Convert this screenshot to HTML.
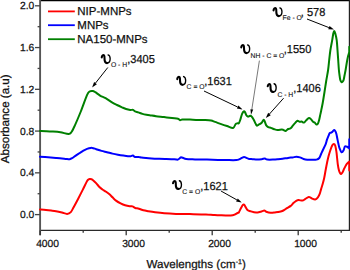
<!DOCTYPE html>
<html><head><meta charset="utf-8"><style>
html,body{margin:0;padding:0;background:#fff;width:350px;height:270px;overflow:hidden}
svg{display:block}
text{font-family:"Liberation Sans",sans-serif;fill:#111;text-rendering:geometricPrecision;stroke:#111;stroke-width:0.25px}
.tk{font-size:10.3px}
.ttl{font-size:11.6px}
.lg{font-size:11.5px}
.num{font-size:11.6px}
.sub{font-size:6.8px;stroke-width:0.1px}
.ups{font-family:"Liberation Serif",serif;font-weight:bold;font-size:17px}
</style></head><body>
<svg width="350" height="270" viewBox="0 0 350 270">
<line x1="40" y1="0" x2="350" y2="0" stroke="#000" stroke-width="2.3"/>
<line x1="349.45" y1="0" x2="349.45" y2="231" stroke="#222" stroke-width="1.3"/>
<line x1="40" y1="230.4" x2="350" y2="230.4" stroke="#2a2a2a" stroke-width="1.3"/>
<line x1="40.1" y1="0" x2="40.1" y2="235.2" stroke="#555" stroke-width="1.9"/>
<line x1="35" y1="214.60" x2="40" y2="214.60" stroke="#444" stroke-width="1.3"/>
<text x="34.3" y="218.20" text-anchor="end" class="tk">0.0</text>
<line x1="37.6" y1="193.72" x2="40" y2="193.72" stroke="#444" stroke-width="1.3"/>
<line x1="35" y1="172.84" x2="40" y2="172.84" stroke="#444" stroke-width="1.3"/>
<text x="34.3" y="176.44" text-anchor="end" class="tk">0.4</text>
<line x1="37.6" y1="151.96" x2="40" y2="151.96" stroke="#444" stroke-width="1.3"/>
<line x1="35" y1="131.08" x2="40" y2="131.08" stroke="#444" stroke-width="1.3"/>
<text x="34.3" y="134.68" text-anchor="end" class="tk">0.8</text>
<line x1="37.6" y1="110.20" x2="40" y2="110.20" stroke="#444" stroke-width="1.3"/>
<line x1="35" y1="89.32" x2="40" y2="89.32" stroke="#444" stroke-width="1.3"/>
<text x="34.3" y="92.92" text-anchor="end" class="tk">1.2</text>
<line x1="37.6" y1="68.44" x2="40" y2="68.44" stroke="#444" stroke-width="1.3"/>
<line x1="35" y1="47.56" x2="40" y2="47.56" stroke="#444" stroke-width="1.3"/>
<text x="34.3" y="51.16" text-anchor="end" class="tk">1.6</text>
<line x1="37.6" y1="26.68" x2="40" y2="26.68" stroke="#444" stroke-width="1.3"/>
<line x1="35" y1="5.80" x2="40" y2="5.80" stroke="#444" stroke-width="1.3"/>
<text x="34.3" y="9.40" text-anchor="end" class="tk">2.0</text>
<line x1="40.20" y1="230.4" x2="40.20" y2="235.2" stroke="#333" stroke-width="1.3"/>
<text x="47.60" y="247" text-anchor="middle" class="tk">4000</text>
<line x1="83.20" y1="230.4" x2="83.20" y2="232.8" stroke="#333" stroke-width="1.3"/>
<line x1="126.20" y1="230.4" x2="126.20" y2="235.2" stroke="#333" stroke-width="1.3"/>
<text x="133.60" y="247" text-anchor="middle" class="tk">3000</text>
<line x1="169.20" y1="230.4" x2="169.20" y2="232.8" stroke="#333" stroke-width="1.3"/>
<line x1="212.20" y1="230.4" x2="212.20" y2="235.2" stroke="#333" stroke-width="1.3"/>
<text x="219.60" y="247" text-anchor="middle" class="tk">2000</text>
<line x1="255.20" y1="230.4" x2="255.20" y2="232.8" stroke="#333" stroke-width="1.3"/>
<line x1="298.20" y1="230.4" x2="298.20" y2="235.2" stroke="#333" stroke-width="1.3"/>
<text x="305.60" y="247" text-anchor="middle" class="tk">1000</text>
<line x1="341.20" y1="230.4" x2="341.20" y2="232.8" stroke="#333" stroke-width="1.3"/>
<text x="146.5" y="268" class="ttl">Wavelengths (cm<tspan dy="-4.5" font-size="7">-1</tspan><tspan dy="4.5">)</tspan></text>
<text transform="translate(8.9,163.3) rotate(-90)" class="ttl">Absorbance (a.u)</text>
<path d="M40.00,209.40 C41.00,209.48 44.15,209.72 46.00,209.90 C47.85,210.08 49.43,210.28 51.10,210.50 C52.77,210.72 54.20,210.87 56.00,211.20 C57.80,211.53 60.05,212.05 61.90,212.50 C63.75,212.95 65.62,213.97 67.10,213.90 C68.58,213.83 69.68,213.27 70.80,212.10 C71.92,210.93 72.57,209.13 73.80,206.90 C75.03,204.67 76.72,201.53 78.20,198.70 C79.68,195.87 81.33,192.62 82.70,189.90 C84.07,187.18 85.55,184.05 86.40,182.40 C87.25,180.75 87.25,180.57 87.80,180.00 C88.35,179.43 89.08,179.13 89.70,179.00 C90.32,178.87 90.90,178.97 91.50,179.20 C92.10,179.43 92.53,179.75 93.30,180.40 C94.07,181.05 95.03,181.95 96.10,183.10 C97.17,184.25 98.63,186.23 99.70,187.30 C100.77,188.37 101.43,188.75 102.50,189.50 C103.57,190.25 104.88,190.95 106.10,191.80 C107.32,192.65 108.73,193.68 109.80,194.60 C110.87,195.52 111.47,196.30 112.50,197.30 C113.53,198.30 114.65,199.58 116.00,200.60 C117.35,201.62 119.08,202.62 120.60,203.40 C122.12,204.18 123.58,204.82 125.10,205.30 C126.62,205.78 128.47,206.12 129.70,206.30 C130.93,206.48 131.58,206.12 132.50,206.40 C133.42,206.68 134.13,207.62 135.20,208.00 C136.27,208.38 137.53,208.32 138.90,208.70 C140.27,209.08 141.88,209.88 143.40,210.30 C144.92,210.72 146.05,210.87 148.00,211.20 C149.95,211.53 152.38,211.95 155.10,212.30 C157.82,212.65 160.82,213.03 164.30,213.30 C167.78,213.57 171.72,213.77 176.00,213.90 C180.28,214.03 185.00,214.02 190.00,214.10 C195.00,214.18 202.17,214.27 206.00,214.40 C209.83,214.53 210.72,214.75 213.00,214.90 C215.28,215.05 216.75,215.20 219.70,215.30 C222.65,215.40 228.10,215.67 230.70,215.50 C233.30,215.33 234.17,214.72 235.30,214.30 C236.43,213.88 236.90,213.33 237.50,213.00 C238.10,212.67 238.32,213.12 238.90,212.30 C239.48,211.48 240.33,209.33 241.00,208.10 C241.67,206.87 242.40,205.48 242.90,204.90 C243.40,204.32 243.55,204.23 244.00,204.60 C244.45,204.97 245.03,206.22 245.60,207.10 C246.17,207.98 246.57,209.20 247.40,209.90 C248.23,210.60 249.15,210.85 250.60,211.30 C252.05,211.75 254.42,212.53 256.10,212.60 C257.78,212.67 259.33,212.03 260.70,211.70 C262.07,211.37 263.38,210.60 264.30,210.60 C265.22,210.60 265.15,211.35 266.20,211.70 C267.25,212.05 269.12,212.58 270.60,212.70 C272.08,212.82 273.58,212.55 275.10,212.40 C276.62,212.25 278.32,212.12 279.70,211.80 C281.08,211.48 282.18,211.10 283.40,210.50 C284.62,209.90 285.78,208.97 287.00,208.20 C288.22,207.43 289.63,206.75 290.70,205.90 C291.77,205.05 292.48,203.93 293.40,203.10 C294.32,202.27 295.32,201.40 296.20,200.90 C297.08,200.40 297.67,200.15 298.70,200.10 C299.73,200.05 301.33,200.75 302.40,200.60 C303.47,200.45 304.03,199.82 305.10,199.20 C306.17,198.58 307.73,197.05 308.80,196.90 C309.87,196.75 310.43,197.88 311.50,198.30 C312.57,198.72 314.13,199.55 315.20,199.40 C316.27,199.25 317.13,198.35 317.90,197.40 C318.67,196.45 319.27,195.08 319.80,193.70 C320.33,192.32 320.65,190.62 321.10,189.10 C321.55,187.58 321.98,186.45 322.50,184.60 C323.02,182.75 323.67,180.48 324.20,178.00 C324.73,175.52 325.20,172.37 325.70,169.70 C326.20,167.03 326.72,164.28 327.20,162.00 C327.68,159.72 328.03,158.08 328.60,156.00 C329.17,153.92 329.98,151.28 330.60,149.50 C331.22,147.72 331.77,146.23 332.30,145.30 C332.83,144.37 333.32,143.87 333.80,143.90 C334.28,143.93 334.77,144.20 335.20,145.50 C335.63,146.80 336.08,149.62 336.40,151.70 C336.72,153.78 336.87,155.90 337.10,158.00 C337.33,160.10 337.52,162.35 337.80,164.30 C338.08,166.25 338.43,168.25 338.80,169.70 C339.17,171.15 339.60,172.28 340.00,173.00 C340.40,173.72 340.80,174.07 341.20,174.00 C341.60,173.93 341.98,173.32 342.40,172.60 C342.82,171.88 343.08,170.98 343.70,169.70 C344.32,168.42 345.38,166.08 346.10,164.90 C346.82,163.72 347.47,163.15 348.00,162.60 C348.53,162.05 349.08,161.77 349.30,161.60 L349.3,170.4" fill="none" stroke="#ff0000" stroke-width="2" stroke-linejoin="round" stroke-linecap="round"/>
<path d="M40.00,156.80 C41.33,156.88 45.33,157.12 48.00,157.30 C50.67,157.48 53.67,157.72 56.00,157.90 C58.33,158.08 60.33,158.23 62.00,158.40 C63.67,158.57 64.72,158.77 66.00,158.90 C67.28,159.03 68.63,159.35 69.70,159.20 C70.77,159.05 71.33,158.65 72.40,158.00 C73.47,157.35 74.88,156.13 76.10,155.30 C77.32,154.47 78.48,153.77 79.70,153.00 C80.92,152.23 82.18,151.38 83.40,150.70 C84.62,150.02 85.78,149.37 87.00,148.90 C88.22,148.43 89.63,148.02 90.70,147.90 C91.77,147.78 92.48,147.98 93.40,148.20 C94.32,148.42 94.85,148.75 96.20,149.20 C97.55,149.65 99.70,150.40 101.50,150.90 C103.30,151.40 105.17,151.75 107.00,152.20 C108.83,152.65 110.68,153.18 112.50,153.60 C114.32,154.02 116.08,154.37 117.90,154.70 C119.72,155.03 121.72,155.35 123.40,155.60 C125.08,155.85 126.80,156.10 128.00,156.20 C129.20,156.30 129.78,156.32 130.60,156.20 C131.42,156.08 132.15,155.37 132.90,155.50 C133.65,155.63 134.12,156.77 135.10,157.00 C136.08,157.23 137.73,156.80 138.80,156.90 C139.87,157.00 140.28,157.40 141.50,157.60 C142.72,157.80 144.42,157.95 146.10,158.10 C147.78,158.25 149.62,158.38 151.60,158.50 C153.58,158.62 155.75,158.72 158.00,158.80 C160.25,158.88 162.38,158.92 165.10,159.00 C167.82,159.08 172.17,159.20 174.30,159.30 C176.43,159.40 176.98,159.78 177.90,159.60 C178.82,159.42 179.27,158.58 179.80,158.20 C180.33,157.82 180.50,157.33 181.10,157.30 C181.70,157.27 182.55,157.70 183.40,158.00 C184.25,158.30 184.27,158.87 186.20,159.10 C188.13,159.33 191.53,159.32 195.00,159.40 C198.47,159.48 203.17,159.52 207.00,159.60 C210.83,159.68 214.65,159.82 218.00,159.90 C221.35,159.98 224.05,160.07 227.10,160.10 C230.15,160.13 234.32,160.22 236.30,160.10 C238.28,159.98 238.08,159.77 239.00,159.40 C239.92,159.03 240.95,158.30 241.80,157.90 C242.65,157.50 243.35,157.00 244.10,157.00 C244.85,157.00 245.47,157.58 246.30,157.90 C247.13,158.22 248.05,158.68 249.10,158.90 C250.15,159.12 251.27,159.08 252.60,159.20 C253.93,159.32 255.58,159.60 257.10,159.60 C258.62,159.60 260.40,159.38 261.70,159.20 C263.00,159.02 263.98,158.43 264.90,158.50 C265.82,158.57 265.75,159.42 267.20,159.60 C268.65,159.78 271.80,159.65 273.60,159.60 C275.40,159.55 276.50,159.43 278.00,159.30 C279.50,159.17 280.92,159.03 282.60,158.80 C284.28,158.57 286.43,158.13 288.10,157.90 C289.77,157.67 291.23,157.58 292.60,157.40 C293.97,157.22 295.08,156.80 296.30,156.80 C297.52,156.80 298.68,157.03 299.90,157.40 C301.12,157.77 302.37,158.62 303.60,159.00 C304.83,159.38 305.90,159.57 307.30,159.70 C308.70,159.83 310.47,159.82 312.00,159.80 C313.53,159.78 315.28,159.90 316.50,159.60 C317.72,159.30 318.53,158.93 319.30,158.00 C320.07,157.07 320.50,155.33 321.10,154.00 C321.70,152.67 322.13,151.65 322.90,150.00 C323.67,148.35 325.02,145.82 325.70,144.10 C326.38,142.38 326.48,141.20 327.00,139.70 C327.52,138.20 328.35,136.18 328.80,135.10 C329.25,134.02 329.32,133.62 329.70,133.20 C330.08,132.78 330.63,132.85 331.10,132.60 C331.57,132.35 332.05,132.12 332.50,131.70 C332.95,131.28 333.35,130.22 333.80,130.10 C334.25,129.98 334.77,130.35 335.20,131.00 C335.63,131.65 336.05,132.75 336.40,134.00 C336.75,135.25 336.98,136.95 337.30,138.50 C337.62,140.05 337.93,141.68 338.30,143.30 C338.67,144.92 338.95,146.70 339.50,148.20 C340.05,149.70 340.92,151.95 341.60,152.30 C342.28,152.65 343.05,151.28 343.60,150.30 C344.15,149.32 344.32,146.98 344.90,146.40 C345.48,145.82 346.52,146.57 347.10,146.80 C347.68,147.03 348.03,147.52 348.40,147.80 C348.77,148.08 349.15,148.38 349.30,148.50 L349.3,139.2" fill="none" stroke="#0000ff" stroke-width="2" stroke-linejoin="round" stroke-linecap="round"/>
<path d="M40.00,131.10 C41.00,131.12 43.97,131.13 46.00,131.20 C48.03,131.27 49.80,131.32 52.20,131.50 C54.60,131.68 57.67,131.88 60.40,132.30 C63.13,132.72 66.75,134.05 68.60,134.00 C70.45,133.95 70.48,133.37 71.50,132.00 C72.52,130.63 73.15,129.22 74.70,125.80 C76.25,122.38 78.75,116.60 80.80,111.50 C82.85,106.40 85.53,98.53 87.00,95.20 C88.47,91.87 88.65,92.20 89.60,91.50 C90.55,90.80 91.75,90.88 92.70,91.00 C93.65,91.12 94.02,91.40 95.30,92.20 C96.58,93.00 98.68,94.80 100.40,95.80 C102.12,96.80 103.60,97.07 105.60,98.20 C107.60,99.33 110.50,101.47 112.40,102.60 C114.30,103.73 115.40,104.22 117.00,105.00 C118.60,105.78 120.48,106.63 122.00,107.30 C123.52,107.97 124.73,108.57 126.10,109.00 C127.47,109.43 129.05,109.75 130.20,109.90 C131.35,110.05 132.20,109.65 133.00,109.90 C133.80,110.15 134.12,110.98 135.00,111.40 C135.88,111.82 137.07,111.98 138.30,112.40 C139.53,112.82 141.05,113.50 142.40,113.90 C143.75,114.30 145.18,114.58 146.40,114.80 C147.62,115.02 148.10,114.97 149.70,115.20 C151.30,115.43 153.62,115.88 156.00,116.20 C158.38,116.52 161.33,116.78 164.00,117.10 C166.67,117.42 169.67,117.82 172.00,118.10 C174.33,118.38 176.67,118.45 178.00,118.80 C179.33,119.15 179.27,120.10 180.00,120.20 C180.73,120.30 180.73,119.50 182.40,119.40 C184.07,119.30 187.73,119.52 190.00,119.60 C192.27,119.68 193.50,119.82 196.00,119.90 C198.50,119.98 202.48,119.98 205.00,120.10 C207.52,120.22 209.43,120.30 211.10,120.60 C212.77,120.90 213.32,121.32 215.00,121.90 C216.68,122.48 219.20,123.42 221.20,124.10 C223.20,124.78 225.02,125.37 227.00,126.00 C228.98,126.63 231.67,128.22 233.10,127.90 C234.53,127.58 234.87,124.87 235.60,124.10 C236.33,123.33 236.95,123.45 237.50,123.30 C238.05,123.15 238.40,123.90 238.90,123.20 C239.40,122.50 239.97,120.67 240.50,119.10 C241.03,117.53 241.55,115.10 242.10,113.80 C242.65,112.50 243.32,111.58 243.80,111.30 C244.28,111.02 244.60,111.48 245.00,112.10 C245.40,112.72 245.72,114.25 246.20,115.00 C246.68,115.75 247.42,116.40 247.90,116.60 C248.38,116.80 248.63,116.33 249.10,116.20 C249.57,116.07 250.17,115.60 250.70,115.80 C251.23,116.00 251.75,116.65 252.30,117.40 C252.85,118.15 253.45,119.27 254.00,120.30 C254.55,121.33 255.13,122.72 255.60,123.60 C256.07,124.48 256.33,125.40 256.80,125.60 C257.27,125.80 257.72,125.17 258.40,124.80 C259.08,124.43 260.27,123.87 260.90,123.40 C261.53,122.93 261.73,122.60 262.20,122.00 C262.67,121.40 263.25,119.83 263.70,119.80 C264.15,119.77 264.50,120.92 264.90,121.80 C265.30,122.68 265.55,124.22 266.10,125.10 C266.65,125.98 267.38,126.63 268.20,127.10 C269.02,127.57 269.98,127.55 271.00,127.90 C272.02,128.25 273.20,128.85 274.30,129.20 C275.40,129.55 276.38,129.93 277.60,130.00 C278.82,130.07 280.65,129.62 281.60,129.60 C282.55,129.58 282.62,129.68 283.30,129.90 C283.98,130.12 284.90,131.05 285.70,130.90 C286.50,130.75 287.28,129.43 288.10,129.00 C288.92,128.57 289.78,128.90 290.60,128.30 C291.42,127.70 292.18,126.35 293.00,125.40 C293.82,124.45 294.75,123.37 295.50,122.60 C296.25,121.83 296.82,120.93 297.50,120.80 C298.18,120.67 298.92,121.67 299.60,121.80 C300.28,121.93 300.87,121.47 301.60,121.60 C302.33,121.73 303.22,122.83 304.00,122.60 C304.78,122.37 305.47,120.98 306.30,120.20 C307.13,119.42 308.20,118.03 309.00,117.90 C309.80,117.77 310.42,118.75 311.10,119.40 C311.78,120.05 312.50,121.27 313.10,121.80 C313.70,122.33 314.15,122.15 314.70,122.60 C315.25,123.05 315.85,124.37 316.40,124.50 C316.95,124.63 317.53,124.18 318.00,123.40 C318.47,122.62 318.80,121.35 319.20,119.80 C319.60,118.25 320.05,115.73 320.40,114.10 C320.75,112.47 320.92,111.85 321.30,110.00 C321.68,108.15 322.17,106.00 322.70,103.00 C323.23,100.00 323.92,95.67 324.50,92.00 C325.08,88.33 325.60,84.67 326.20,81.00 C326.80,77.33 327.60,73.50 328.10,70.00 C328.60,66.50 328.82,63.33 329.20,60.00 C329.58,56.67 329.90,53.30 330.40,50.00 C330.90,46.70 331.72,42.95 332.20,40.20 C332.68,37.45 332.97,35.05 333.30,33.50 C333.63,31.95 333.87,30.90 334.20,30.90 C334.53,30.90 334.88,31.95 335.30,33.50 C335.72,35.05 336.33,37.45 336.70,40.20 C337.07,42.95 337.25,46.70 337.50,50.00 C337.75,53.30 337.97,56.67 338.20,60.00 C338.43,63.33 338.68,67.50 338.90,70.00 C339.12,72.50 339.27,73.33 339.50,75.00 C339.73,76.67 339.95,78.80 340.30,80.00 C340.65,81.20 341.20,81.95 341.60,82.20 C342.00,82.45 342.37,81.87 342.70,81.50 C343.03,81.13 343.28,81.08 343.60,80.00 C343.92,78.92 344.27,76.67 344.60,75.00 C344.93,73.33 345.22,72.17 345.60,70.00 C345.98,67.83 346.48,64.33 346.90,62.00 C347.32,59.67 347.70,57.67 348.10,56.00 C348.50,54.33 349.10,52.67 349.30,52.00 L349.3,46.8" fill="none" stroke="#008000" stroke-width="2" stroke-linejoin="round" stroke-linecap="round"/>
<line x1="48" y1="11.4" x2="74.8" y2="11.4" stroke="#ff0000" stroke-width="1.8"/>
<text x="77.3" y="15.3" class="lg">NIP-MNPs</text>
<line x1="48" y1="25.2" x2="74.8" y2="25.2" stroke="#0000ff" stroke-width="1.8"/>
<text x="77.3" y="29.1" class="lg">MNPs</text>
<line x1="48" y1="39.2" x2="74.8" y2="39.2" stroke="#008000" stroke-width="1.8"/>
<text x="77.3" y="42.9" class="lg">NA150-MNPs</text>
<line x1="107.8" y1="67.5" x2="95.51" y2="83.08" stroke="#000" stroke-width="1.0"/><path d="M92.10,87.40 L94.13,82.00 L96.88,84.17 Z" fill="#000"/>
<line x1="204" y1="91" x2="237.64" y2="107.03" stroke="#000" stroke-width="1.0"/><path d="M242.60,109.40 L236.88,108.61 L238.39,105.45 Z" fill="#000"/>
<line x1="259.4" y1="60.6" x2="251.84" y2="109.36" stroke="#555" stroke-width="0.8"/><path d="M251.00,114.80 L250.46,109.15 L253.23,109.58 Z" fill="#000"/>
<line x1="283.6" y1="98.2" x2="269.47" y2="114.00" stroke="#000" stroke-width="1.0"/><path d="M265.80,118.10 L268.16,112.83 L270.77,115.17 Z" fill="#000"/>
<line x1="307" y1="19" x2="328.88" y2="27.59" stroke="#000" stroke-width="1.0"/><path d="M334.00,29.60 L328.24,29.22 L329.52,25.96 Z" fill="#000"/>
<line x1="221" y1="191" x2="236.90" y2="199.91" stroke="#000" stroke-width="1.0"/><path d="M241.70,202.60 L236.05,201.44 L237.76,198.38 Z" fill="#000"/>
<g transform="translate(100.80,54.10) scale(1.04,1.09)" fill="none" stroke="#000" stroke-linecap="round"><path d="M0.9,3.0 C1.0,1.3 2.4,0.5 3.2,1.3 C3.7,1.9 3.6,3.4 3.6,4.8 C3.6,7.0 4.7,8.2 6.0,8.2" stroke-width="2.0"/><path d="M5.8,8.2 C7.9,8.2 9.0,6.6 9.0,4.3 C9.0,2.4 8.3,1.1 7.0,0.7" stroke-width="1.3"/></g><text x="110.9" y="67.20" class="sub">O - H</text><text transform="translate(127.2,62.9) scale(0.95,1)" class="num" xml:space="preserve">,3405</text>
<g transform="translate(176.30,75.80) scale(1.04,1.09)" fill="none" stroke="#000" stroke-linecap="round"><path d="M0.9,3.0 C1.0,1.3 2.4,0.5 3.2,1.3 C3.7,1.9 3.6,3.4 3.6,4.8 C3.6,7.0 4.7,8.2 6.0,8.2" stroke-width="2.0"/><path d="M5.8,8.2 C7.9,8.2 9.0,6.6 9.0,4.3 C9.0,2.4 8.3,1.1 7.0,0.7" stroke-width="1.3"/></g><text x="186.6" y="89.10" class="sub">C = O</text><text transform="translate(204.2,84.8) scale(0.95,1)" class="num" xml:space="preserve">,1631</text>
<g transform="translate(240.30,44.10) scale(1.04,1.09)" fill="none" stroke="#000" stroke-linecap="round"><path d="M0.9,3.0 C1.0,1.3 2.4,0.5 3.2,1.3 C3.7,1.9 3.6,3.4 3.6,4.8 C3.6,7.0 4.7,8.2 6.0,8.2" stroke-width="2.0"/><path d="M5.8,8.2 C7.9,8.2 9.0,6.6 9.0,4.3 C9.0,2.4 8.3,1.1 7.0,0.7" stroke-width="1.3"/></g><text x="250.6" y="57.70" class="sub">NH - C = O</text><text transform="translate(283.8,53.4) scale(0.95,1)" class="num" xml:space="preserve">,1550</text>
<g transform="translate(266.80,83.00) scale(1.04,1.09)" fill="none" stroke="#000" stroke-linecap="round"><path d="M0.9,3.0 C1.0,1.3 2.4,0.5 3.2,1.3 C3.7,1.9 3.6,3.4 3.6,4.8 C3.6,7.0 4.7,8.2 6.0,8.2" stroke-width="2.0"/><path d="M5.8,8.2 C7.9,8.2 9.0,6.6 9.0,4.3 C9.0,2.4 8.3,1.1 7.0,0.7" stroke-width="1.3"/></g><text x="277.4" y="96.50" class="sub">C - H</text><text transform="translate(293.2,92.2) scale(0.95,1)" class="num" xml:space="preserve">,1406</text>
<g transform="translate(272.60,7.10) scale(1.04,1.09)" fill="none" stroke="#000" stroke-linecap="round"><path d="M0.9,3.0 C1.0,1.3 2.4,0.5 3.2,1.3 C3.7,1.9 3.6,3.4 3.6,4.8 C3.6,7.0 4.7,8.2 6.0,8.2" stroke-width="2.0"/><path d="M5.8,8.2 C7.9,8.2 9.0,6.6 9.0,4.3 C9.0,2.4 8.3,1.1 7.0,0.7" stroke-width="1.3"/></g><text x="282.6" y="19.90" class="sub">Fe - O</text><text transform="translate(300.8,15.6) scale(0.95,1)" class="num" xml:space="preserve">, 578</text>
<g transform="translate(172.10,180.00) scale(1.04,1.09)" fill="none" stroke="#000" stroke-linecap="round"><path d="M0.9,3.0 C1.0,1.3 2.4,0.5 3.2,1.3 C3.7,1.9 3.6,3.4 3.6,4.8 C3.6,7.0 4.7,8.2 6.0,8.2" stroke-width="2.0"/><path d="M5.8,8.2 C7.9,8.2 9.0,6.6 9.0,4.3 C9.0,2.4 8.3,1.1 7.0,0.7" stroke-width="1.3"/></g><text x="182.3" y="193.90" class="sub">C = O</text><text transform="translate(200.2,189.6) scale(0.95,1)" class="num" xml:space="preserve">,1621</text>
</svg>
</body></html>
